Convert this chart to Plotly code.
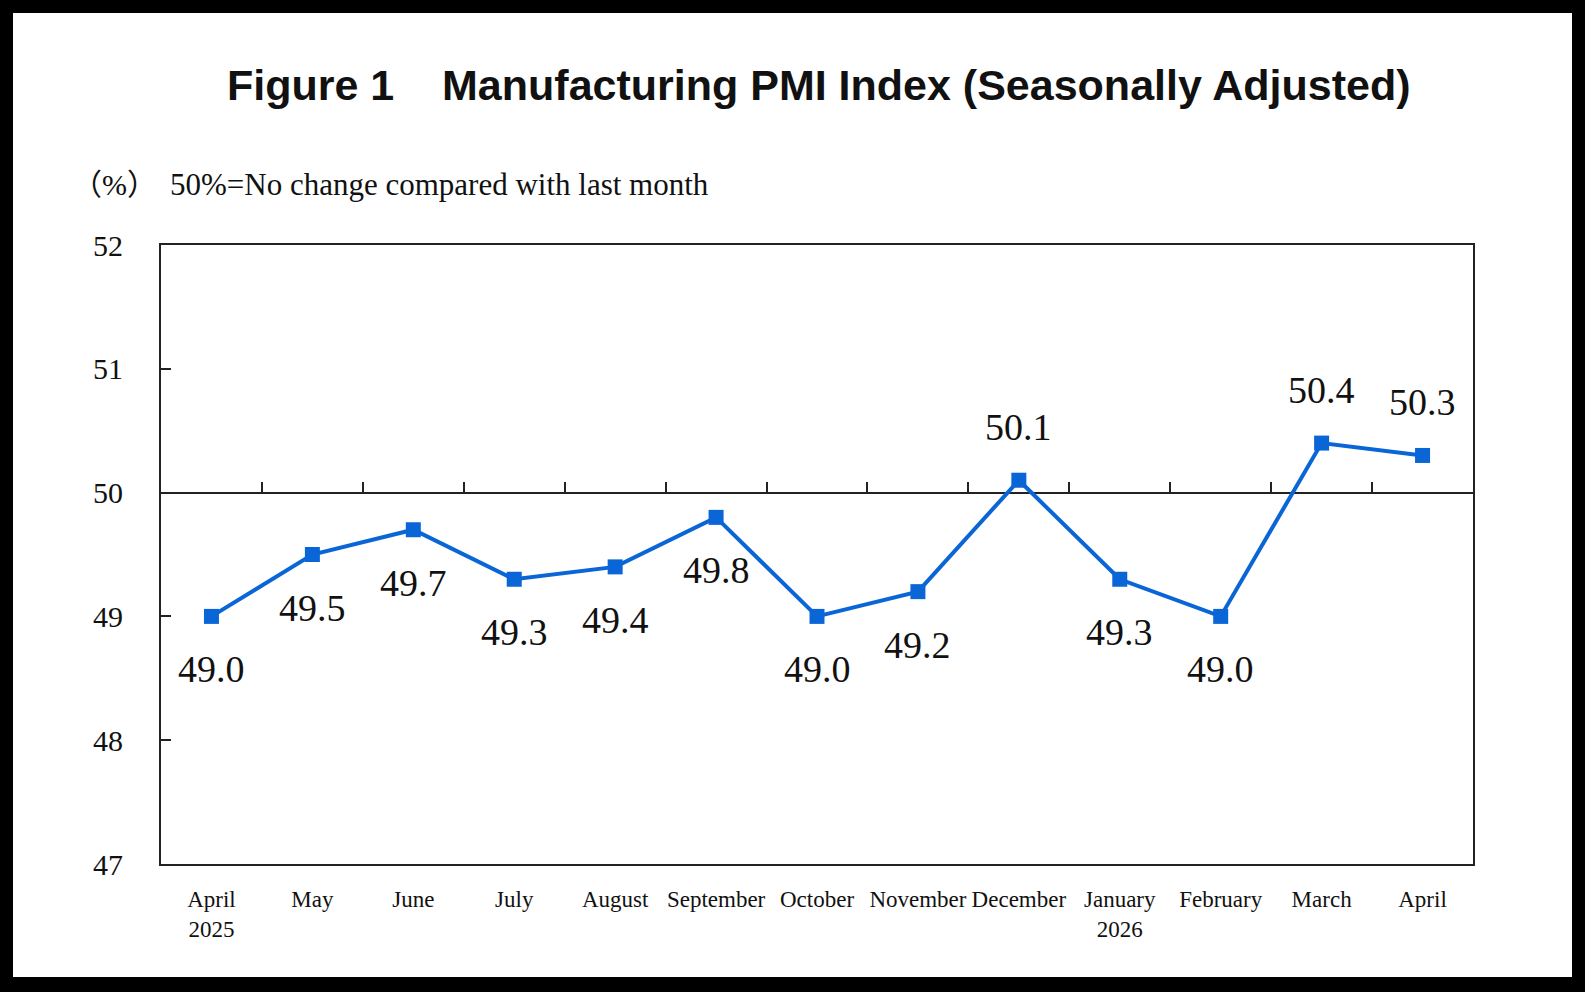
import plotly.graph_objects as go

months = ["April<br>2025", "May", "June", "July", "August", "September", "October",
          "November", "December", "January<br>2026", "February", "March", "April"]
pmi = [49.0, 49.5, 49.7, 49.3, 49.4, 49.8, 49.0, 49.2, 50.1, 49.3, 49.0, 50.4, 50.3]
y_ticks = [47, 48, 49, 50, 51, 52]
threshold = 50

W, H = 1585, 992
L, R, T, B = 161, 112, 245, 128
PW, PH = W - L - R, H - T - B

def px_x(px):
    return (px - L) / PW

def px_y(py):
    return (H - B - py) / PH

BLUE = "#0a66d6"
SERIF = "Liberation Serif, Times New Roman, Noto Sans CJK SC, serif"
SANS = "Liberation Sans, Arial, sans-serif"

xs = list(range(len(months)))

fig = go.Figure()
fig.add_trace(go.Scatter(
    x=xs, y=pmi, mode="lines+markers",
    line=dict(color=BLUE, width=4),
    marker=dict(symbol="square", size=15, color=BLUE),
    hoverinfo="skip", showlegend=False,
))

# hidden trace on second x axis so that it renders
fig.add_trace(go.Scatter(x=[xs[0]], y=[threshold], xaxis="x2", mode="markers",
                         marker=dict(opacity=0), showlegend=False, hoverinfo="skip"))

annotations = []
for i, v in enumerate(pmi):
    annotations.append(dict(
        x=xs[i], y=v, xref="x", yref="y", text=f"{v:.1f}", showarrow=False,
        font=dict(family=SERIF, size=38, color="#111"),
        xanchor="center", yanchor="middle",
        yshift=53 if v > threshold else -53,
    ))

annotations.append(dict(
    x=px_x(818), y=px_y(85), xref="paper", yref="paper",
    text="<b>Figure 1\u00a0\u00a0\u00a0\u00a0Manufacturing PMI Index (Seasonally Adjusted)</b>",
    showarrow=False, font=dict(family=SANS, size=43, color="#111"),
    xanchor="center", yanchor="middle",
))
annotations.append(dict(
    x=px_x(70), y=px_y(185), xref="paper", yref="paper", text="（%）",
    showarrow=False, font=dict(family=SERIF, size=30, color="#111"),
    xanchor="left", yanchor="middle",
))
annotations.append(dict(
    x=px_x(168), y=px_y(185), xref="paper", yref="paper",
    text="50%=No change compared with last month",
    showarrow=False, font=dict(family=SERIF, size=31, color="#111"),
    xanchor="left", yanchor="middle",
))

fig.update_layout(
    width=W, height=H,
    margin=dict(l=L, r=R, t=T, b=B, pad=0),
    paper_bgcolor="black", plot_bgcolor="white",
    annotations=annotations,
    shapes=[dict(type="rect", xref="paper", yref="paper", layer="below",
                 x0=px_x(13), x1=px_x(1572), y0=px_y(977), y1=px_y(13),
                 fillcolor="white", line=dict(width=0))],
    xaxis=dict(
        range=[-0.5, len(months) - 0.5], tickvals=xs, ticktext=months,
        showline=True, linecolor="#222", linewidth=2, mirror=True,
        ticks="", showgrid=False, zeroline=False, automargin=False,
        tickangle=0,
        tickfont=dict(family=SERIF, size=23, color="#111"),
        ticklabelstandoff=13,
    ),
    xaxis2=dict(
        overlaying="x", anchor="free", position=(threshold - y_ticks[0]) / (y_ticks[-1] - y_ticks[0]),
        side="top", range=[-0.5, len(months) - 0.5],
        tickvals=[i + 0.5 for i in xs[:-1]], ticks="outside", ticklen=10, tickwidth=2,
        tickcolor="#222", showticklabels=False, showline=True, linecolor="#222",
        linewidth=2, showgrid=False, zeroline=False, layer="below traces", automargin=False,
    ),
    yaxis=dict(
        range=[y_ticks[0], y_ticks[-1]], tickvals=y_ticks, ticktext=[str(t) for t in y_ticks],
        showline=True, linecolor="#222", linewidth=2, mirror=True,
        ticks="inside", ticklen=10, tickwidth=2, tickcolor="#222",
        showgrid=False, zeroline=False, automargin=False,
        tickfont=dict(family=SERIF, size=30, color="#111"),
        ticklabelstandoff=30,
    ),
)

fig.write_html("out.html", config={"displayModeBar": False},
               post_script="document.body.style.margin='0';document.body.style.overflow='hidden';")
